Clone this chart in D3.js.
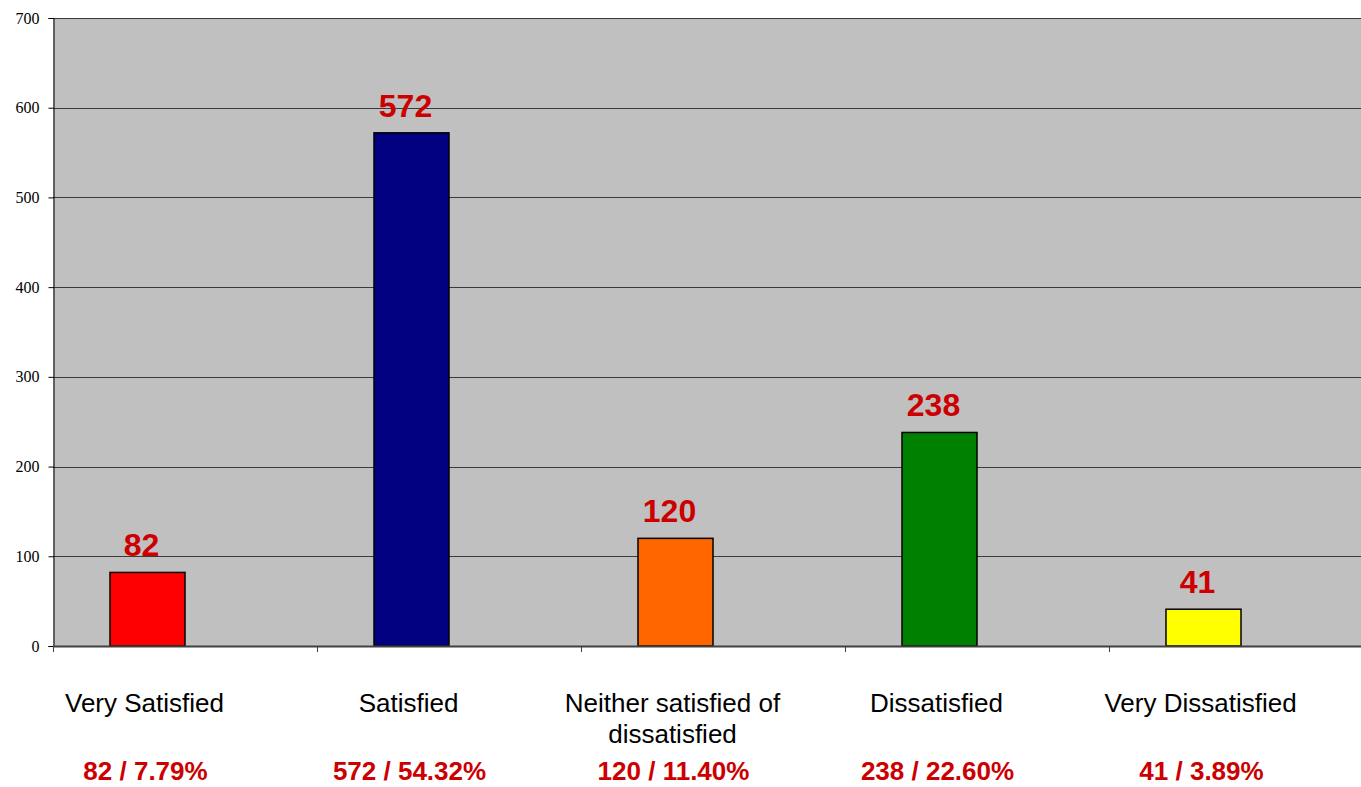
<!DOCTYPE html>
<html>
<head>
<meta charset="utf-8">
<script src="https://cdn.jsdelivr.net/npm/d3@7"></script>
<style>
    body { margin: 0; background: #fff; }
    svg { display: block; }
</style>
</head>
<body>
<div class="chart"></div>
<script>
// chart data
const categories = ["Very Satisfied", "Satisfied", "Neither satisfied of dissatisfied", "Dissatisfied", "Very Dissatisfied"];
const labelLines = [["Very Satisfied"], ["Satisfied"], ["Neither satisfied of", "dissatisfied"], ["Dissatisfied"], ["Very Dissatisfied"]];
const counts = [82, 572, 120, 238, 41];
const percents = ["7.79%", "54.32%", "11.40%", "22.60%", "3.89%"];
const barColors = ["#ff0000", "#000080", "#ff6600", "#008000", "#ffff00"];
const yTicks = [0, 100, 200, 300, 400, 500, 600, 700];

document.addEventListener("DOMContentLoaded", () => {
    drawChart();
})

function drawChart() {
    var width = 1361;
    var height = 787;
    var plot = {left: 53, right: 1373, top: 18, bottom: 646};

    var svg = d3.select(".chart")
        .append("svg")
        .attr("width", width)
        .attr("height", height);

    // category bands (second, empty series slot sits to the right of each bar)
    var x = d3.scaleBand()
        .domain(categories)
        .range([plot.left, plot.right])
        .padding(0);
    var xs = d3.scaleBand()
        .domain(["count", "empty"])
        .range([0, x.bandwidth()])
        .paddingInner(0)
        .paddingOuter(0.76);

    var y = d3.scaleLinear()
        .domain([0, 700])
        .range([plot.bottom, plot.top]);

    // plot background
    svg.append("rect")
        .attr("x", plot.left)
        .attr("y", plot.top)
        .attr("width", plot.right - plot.left)
        .attr("height", plot.bottom - plot.top)
        .attr("fill", "#c0c0c0");

    // gridlines
    svg.append("g")
        .selectAll("line")
        .data(yTicks.filter(d => d > 0))
        .enter()
        .append("line")
            .attr("x1", plot.left)
            .attr("x2", plot.right)
            .attr("y1", d => Math.round(y(d)) + 0.5)
            .attr("y2", d => Math.round(y(d)) + 0.5)
            .attr("stroke", "#3a3a3a")
            .attr("stroke-width", 1);

    // Y axis
    var yAxis = d3.axisLeft(y)
        .tickValues(yTicks)
        .tickSize(5)
        .tickPadding(9);
    var yG = svg.append("g")
        .attr("transform", "translate(" + (plot.left + 0.5) + ",0)")
        .call(yAxis);
    yG.select(".domain").attr("stroke", "#000");
    yG.selectAll(".tick line").attr("stroke", "#000");
    yG.selectAll("text")
        .attr("font-family", "'Liberation Serif', 'Times New Roman', serif")
        .attr("font-size", 16)
        .attr("fill", "#000");

    // Bars
    svg.append("g")
        .selectAll("rect")
        .data(counts)
        .enter()
        .append("rect")
            .attr("x", (d, i) => x(categories[i]) + xs("count"))
            .attr("y", d => y(d))
            .attr("width", xs.bandwidth())
            .attr("height", d => plot.bottom - y(d))
            .attr("fill", (d, i) => barColors[i])
            .attr("stroke", "#000")
            .attr("stroke-width", 1.5);

    // X axis
    var xAxis = d3.axisBottom(x).tickSize(0).tickFormat("");
    var xG = svg.append("g")
        .attr("transform", "translate(0," + plot.bottom + ")")
        .call(xAxis);
    xG.select(".domain").attr("stroke", "#404040").attr("stroke-width", 2);
    svg.append("g")
        .selectAll("line")
        .data(categories)
        .enter()
        .append("line")
            .attr("x1", d => x(d) + 0.5)
            .attr("x2", d => x(d) + 0.5)
            .attr("y1", plot.bottom)
            .attr("y2", plot.bottom + 6)
            .attr("stroke", "#404040");

    var barCenter = (i) => x(categories[i]) + xs("count") + xs.bandwidth() / 2;

    // value labels above bars
    svg.append("g")
        .selectAll("text")
        .data(counts)
        .enter()
        .append("text")
            .attr("x", (d, i) => barCenter(i) - 6)
            .attr("y", d => y(d) - 16)
            .attr("text-anchor", "middle")
            .attr("font-family", "'Liberation Sans', Arial, sans-serif")
            .attr("font-weight", "bold")
            .attr("font-size", 32)
            .attr("fill", "#cc0000")
            .text(d => d);

    // category labels
    var catG = svg.append("g")
        .selectAll("text")
        .data(labelLines)
        .enter()
        .append("text")
            .attr("x", (d, i) => barCenter(i) - 3)
            .attr("y", 712)
            .attr("text-anchor", "middle")
            .attr("font-family", "'Liberation Sans', Arial, sans-serif")
            .attr("font-size", 26)
            .attr("fill", "#000");
    catG.each(function(lines, i) {
        d3.select(this).selectAll("tspan")
            .data(lines)
            .enter()
            .append("tspan")
                .attr("x", barCenter(i) - 3)
                .attr("dy", (d, j) => j == 0 ? 0 : 31)
                .text(d => d);
    });

    // count / percent labels
    svg.append("g")
        .selectAll("text")
        .data(counts)
        .enter()
        .append("text")
            .attr("x", (d, i) => barCenter(i) - 2)
            .attr("y", 780)
            .attr("text-anchor", "middle")
            .attr("font-family", "'Liberation Sans', Arial, sans-serif")
            .attr("font-weight", "bold")
            .attr("font-size", 26)
            .attr("fill", "#cc0000")
            .text((d, i) => d + " / " + percents[i]);
}
</script>
</body>
</html>
